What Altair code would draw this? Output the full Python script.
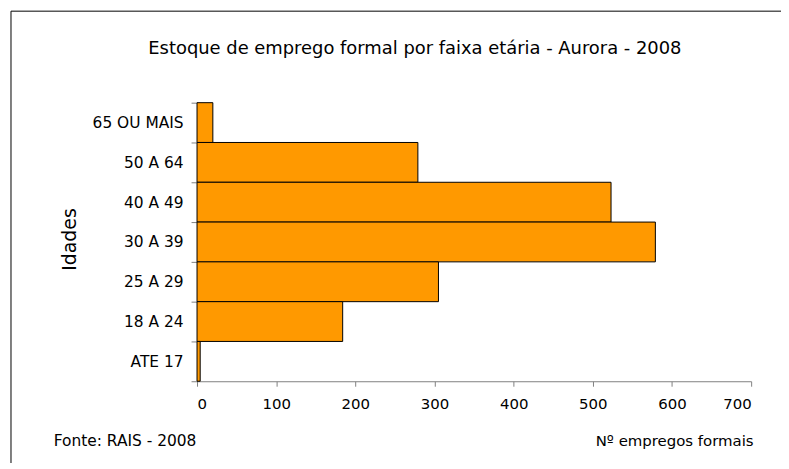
import altair as alt
import pandas as pd

categories = ["65 OU MAIS", "50 A 64", "40 A 49", "30 A 39", "25 A 29", "18 A 24", "ATE 17"]
values = [20, 279, 523, 579, 305, 184, 4]
x_ticks = [0, 100, 200, 300, 400, 500, 600, 700]

title_text = "Estoque de emprego formal por faixa etária - Aurora - 2008"
source_text = "Fonte: RAIS - 2008"
x_title = "Nº empregos formais"
y_title = "Idades"

FONT = "DejaVu Sans"

df = pd.DataFrame({"faixa": categories, "empregos": values})

bars = alt.Chart(df).mark_bar(
    color="#FF9900", stroke="#000000", strokeWidth=1
).encode(
    y=alt.Y(
        "faixa:N",
        sort=categories,
        scale=alt.Scale(paddingInner=0, paddingOuter=0),
        axis=alt.Axis(
            title=y_title,
            titleFont=FONT,
            titleFontSize=19,
            titleFontWeight="normal",
            titleColor="#000000",
            titleX=-128,
            titleY=137,
            titleAngle=270,
            titleAlign="center",
            titleBaseline="middle",
            labelFont=FONT,
            labelFontSize=15.5,
            labelColor="#000000",
            labelPadding=8,
            tickBand="extent",
            tickSize=6,
            tickColor="#808080",
            domainColor="#808080",
            grid=False,
        ),
    ),
    x=alt.X(
        "empregos:Q",
        scale=alt.Scale(domain=[0, 700], nice=False),
        axis=alt.Axis(
            values=x_ticks,
            title=x_title,
            titleFont=FONT,
            titleFontSize=15,
            titleFontWeight="normal",
            titleColor="#000000",
            titleX=559,
            titleY=65,
            titleAlign="right",
            titleBaseline="alphabetic",
            labelFont=FONT,
            labelFontSize=15,
            labelColor="#000000",
            labelPadding=10,
            tickSize=5,
            tickColor="#808080",
            domainColor="#808080",
            grid=False,
        ),
    ),
)

title_mark = alt.Chart(pd.DataFrame({"t": [title_text]})).mark_text(
    font=FONT, fontSize=18, color="#000000", align="center", baseline="middle"
).encode(text="t:N", x=alt.value(219), y=alt.value(-54))

source_mark = alt.Chart(pd.DataFrame({"t": [source_text]})).mark_text(
    font=FONT, fontSize=15.5, color="#000000", align="left", baseline="alphabetic"
).encode(text="t:N", x=alt.value(-144), y=alt.value(345))

frame_left = alt.Chart(pd.DataFrame({"a": [0]})).mark_rule(
    color="#000000", strokeWidth=1
).encode(x=alt.value(-187), y=alt.value(-92), y2=alt.value(400))

frame_top = alt.Chart(pd.DataFrame({"a": [0]})).mark_rule(
    color="#000000", strokeWidth=1
).encode(x=alt.value(-187), x2=alt.value(640), y=alt.value(-92))

chart = alt.layer(frame_left, frame_top, bars, title_mark, source_mark).properties(
    width=557,
    height=280,
    autosize=alt.AutoSizeParams(type="none"),
    padding={"left": 190, "top": 94, "right": 30, "bottom": 81},
).configure_view(strokeWidth=0)

chart.save("out.html", embed_options={"renderer": "svg", "actions": False})
